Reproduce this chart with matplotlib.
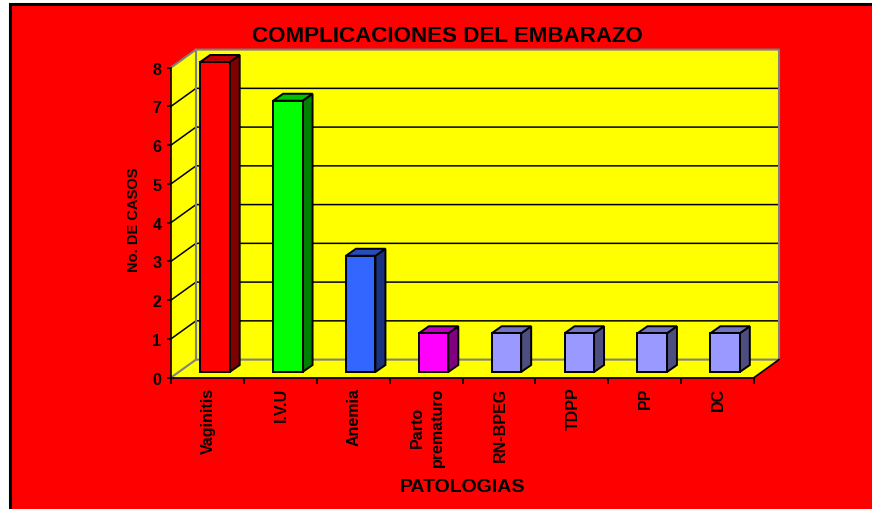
import matplotlib
matplotlib.use('Agg')
import matplotlib.pyplot as plt
from matplotlib.patches import Rectangle

# Data
categorias = ['Vaginitis', 'I.V.U', 'Anemia', 'Parto\nprematuro', 'RN-BPEG', 'TDPP', 'PP', 'DC']
casos = [8, 7, 3, 1, 1, 1, 1, 1]
y_ticks = [0, 1, 2, 3, 4, 5, 6, 7, 8]

# front, side and top colour of each bar
front = ['#FF0000', '#00FF00', '#3366FF', '#FF00FF', '#9999FF', '#9999FF', '#9999FF', '#9999FF']
side = ['#800000', '#008000', '#1A3380', '#800080', '#4D4D80', '#4D4D80', '#4D4D80', '#4D4D80']
top = ['#C00000', '#00C000', '#264DBF', '#C000C0', '#7373BF', '#7373BF', '#7373BF', '#7373BF']

plt.rcParams['font.family'] = ['Liberation Sans', 'DejaVu Sans']
plt.rcParams['font.weight'] = 'bold'

W, H = 872, 510
fig = plt.figure(figsize=(W / 100, H / 100), dpi=100, facecolor='white')

# Red panel with black border, runs off the right and bottom of the picture
fig.add_artist(Rectangle((10 / W, -0.02), 1.0, 1 - 5 / H + 0.02, transform=fig.transFigure,
                         facecolor='#FF0000', edgecolor='black', linewidth=2.2, zorder=0))

# Axes sit on the front plane of the fake 3D box
ax = fig.add_axes([171 / W, 1 - 378.6 / H, 583 / W, 310 / H], zorder=2)
ax.set_xlim(0, len(casos))
ax.set_ylim(0, 8)
ax.patch.set_visible(False)

# Depth of the box in data units
dx = 25 / (583 / 8)
dy = 18 / (310 / 8)
n = len(casos)

# Walls and floor
ax.fill([dx, n + dx, n + dx, dx], [dy, dy, 8 + dy, 8 + dy], color='#FFFF00', zorder=1, clip_on=False, lw=0)
ax.fill([0, dx, dx, 0], [0, dy, 8 + dy, 8], color='#FFFF00', zorder=1, clip_on=False, lw=0)
ax.fill([0, n, n + dx, dx], [0, 0, dy, dy], color='#FFFF00', zorder=1, clip_on=False, lw=0)

# Grid lines on side and back walls
for t in y_ticks[1:-1]:
    ax.plot([0, dx, n + dx], [t, t + dy, t + dy], color='black', lw=1.1, zorder=2, clip_on=False)

# Grey wall edges
ax.plot([0, dx, dx], [8, 8 + dy, dy], color='#808080', lw=1.5, zorder=3, clip_on=False)
ax.plot([dx, n + dx, n + dx, dx, 0], [8 + dy, 8 + dy, dy, dy, 0], color='#808080', lw=1.5, zorder=3, clip_on=False)
ax.plot([n, n + dx], [0, dy], color='black', lw=1.2, zorder=3, clip_on=False)

# Bars
ancho = 29.5 / (583 / 8)
prof_x = 10 / (583 / 8)
prof_y = 7 / (310 / 8)
off_x = 7.5 / (583 / 8)
off_y = 5.6 / (310 / 8)
for i, v in enumerate(casos):
    x0 = i + 0.5 + off_x - ancho / 2
    x1 = x0 + ancho
    y0 = off_y
    y1 = v + off_y
    ax.fill([x1, x1 + prof_x, x1 + prof_x, x1], [y0, y0 + prof_y, y1 + prof_y, y1],
            facecolor=side[i], edgecolor='black', lw=1.4, zorder=4, clip_on=False, joinstyle='miter')
    ax.fill([x0, x1, x1 + prof_x, x0 + prof_x], [y1, y1, y1 + prof_y, y1 + prof_y],
            facecolor=top[i], edgecolor='black', lw=1.4, zorder=4, clip_on=False, joinstyle='miter')
    ax.bar(i + 0.5 + off_x, v, width=ancho, bottom=off_y, color=front[i], edgecolor='black',
           linewidth=1.4, zorder=5, clip_on=False)

# Axes
for s in ['top', 'right']:
    ax.spines[s].set_visible(False)
for s in ['left', 'bottom']:
    ax.spines[s].set_linewidth(1.2)
    ax.spines[s].set_zorder(6)

ax.set_yticks(y_ticks)
ax.set_xticks(range(n + 1))
ax.set_xticklabels([])
ax.tick_params(axis='y', labelsize=11.5, length=3, width=1.2, pad=4)
ax.tick_params(axis='x', length=4.5, width=1.2)

for i, c in enumerate(categorias):
    ax.annotate(c, (i + 0.5, 0), xytext=(0.8, -6.5), textcoords='offset points', rotation=90,
                ha='center', va='top', ma='center', fontsize=11.5, linespacing=1.45,
                annotation_clip=False)

# Titles
fig.text(447 / W, 1 - 36.5 / H, 'COMPLICACIONES DEL EMBARAZO', ha='center', va='center', fontsize=16.1)
fig.text(134 / W, 1 - 220 / H, 'No. DE CASOS', rotation=90, ha='center', va='center', fontsize=10.5)
fig.text(462 / W, 1 - 487 / H, 'PATOLOGIAS', ha='center', va='center', fontsize=14)

fig.savefig('out.png', dpi=100)
